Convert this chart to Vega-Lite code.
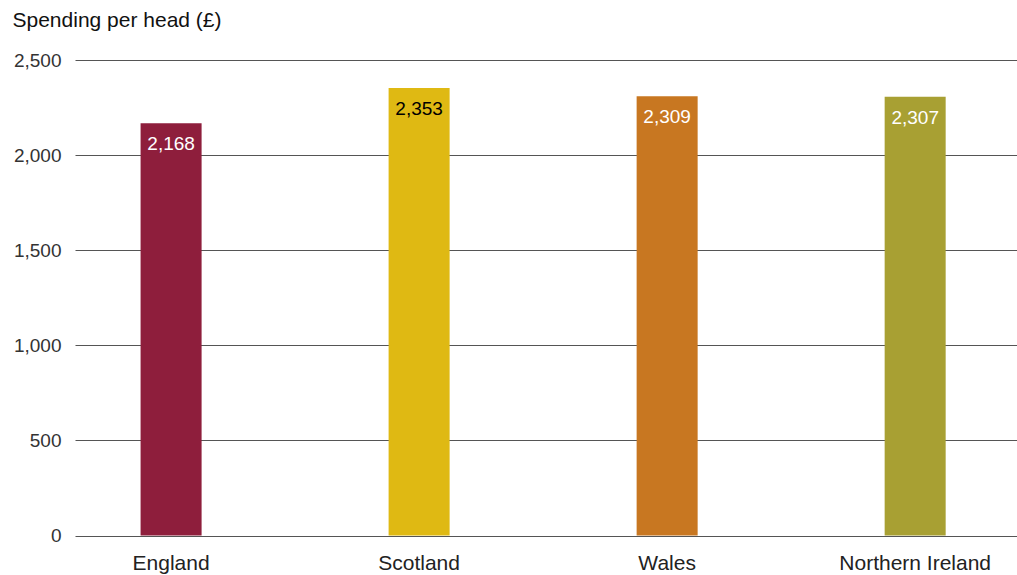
{
  "$schema": "https://vega.github.io/schema/vega-lite/v6.json",
  "width": 942,
  "height": 475.5,
  "autosize": "none",
  "padding": {"left": 75, "top": 60, "right": 0, "bottom": 39.5},
  "background": "white",
  "config": {"view": {"stroke": null}, "font": "Liberation Sans"},
  "data": {"values": [
    {"region": "England", "value": 2168, "color": "#8E1E3C", "text": "white"},
    {"region": "Scotland", "value": 2353, "color": "#DFB913", "text": "black"},
    {"region": "Wales", "value": 2309, "color": "#C87721", "text": "white"},
    {"region": "Northern Ireland", "value": 2307, "color": "#A8A033", "text": "white"}
  ]},
  "encoding": {
    "x": {"field": "region", "type": "nominal", "sort": null,
      "scale": {"paddingInner": 0.754, "paddingOuter": 0.276, "align": 0.479},
      "axis": {"title": null, "labelAngle": 0, "domain": false, "ticks": false, "labelPadding": 17, "labelFontSize": 21, "labelColor": "#222", "labelFont": "Liberation Sans"}},
    "y": {"field": "value", "type": "quantitative",
      "scale": {"domain": [0, 2500]},
      "axis": {"values": [0, 500, 1000, 1500, 2000, 2500], "format": ",d", "domain": false, "ticks": false, "grid": true, "gridColor": "#555", "gridOpacity": 1, "gridWidth": 1,
        "labelPadding": 14, "labelFontSize": 19, "labelColor": "#333",
        "title": "Spending per head (£)", "titleAngle": 0, "titleX": -63, "titleY": -40, "titleAlign": "left", "titleBaseline": "middle", "titleFontSize": 21, "titleFontWeight": "normal", "titleColor": "#111"}}
  },
  "layer": [
    {"mark": {"type": "bar"}, "encoding": {"color": {"field": "color", "type": "nominal", "scale": null}}},
    {"mark": {"type": "text", "baseline": "middle", "dy": 21, "fontSize": 19, "fontWeight": "normal"},
      "encoding": {"text": {"field": "value", "type": "quantitative", "format": ",d"}, "color": {"field": "text", "type": "nominal", "scale": null}}}
  ]
}
